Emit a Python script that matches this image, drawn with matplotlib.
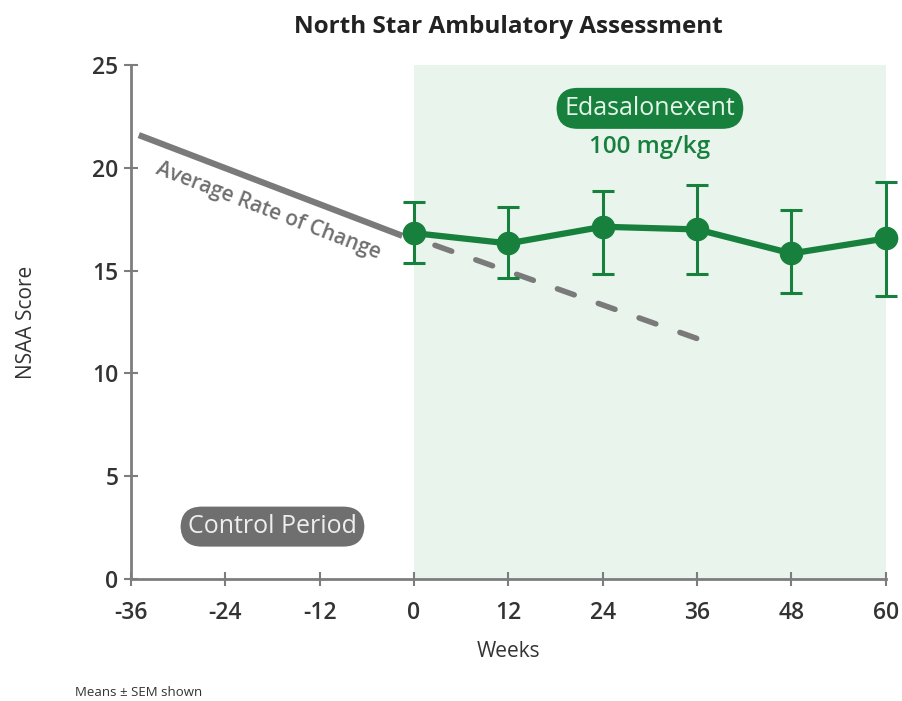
import matplotlib
matplotlib.use("Agg")
import matplotlib.pyplot as plt
import numpy as np

plt.rcParams['font.family'] = ['Open Sans', 'DejaVu Sans']

# Data
weeks = [0, 12, 24, 36, 48, 60]
nsaa = [16.83, 16.33, 17.14, 17.01, 15.84, 16.57]
err_upper = [18.35, 18.08, 18.87, 19.16, 17.95, 19.32]
err_lower = [15.38, 14.63, 14.83, 14.82, 13.90, 13.76]

control_weeks = [-35, -1.5]
control_vals = [21.6, 16.7]
proj_weeks = [0, 36]
proj_vals = [16.6, 11.7]

xticks = [-36, -24, -12, 0, 12, 24, 36, 48, 60]
yticks = [0, 5, 10, 15, 20, 25]

green = '#17803d'
gray_line = '#7a7a7a'
axis_gray = '#7d7d7d'
text_dark = '#333333'

fig = plt.figure(figsize=(9.03, 7.01), dpi=100)
ax = fig.add_axes([0.145, 0.174, 0.836, 0.733])

ax.set_xlim(-36, 60)
ax.set_ylim(0, 25)

# shaded treatment region
ax.axvspan(0, 60, ymin=0, ymax=1, color='#e9f4ed', zorder=0, lw=0)

# control average rate line
ax.plot(control_weeks, control_vals, color=gray_line, lw=4.5, solid_capstyle='butt', zorder=2)
ax.plot(proj_weeks, proj_vals, color=gray_line, lw=4, ls=(3.8, (3.2, 4.6)), dash_capstyle='round', zorder=2)

yerr = [np.array(nsaa) - np.array(err_lower), np.array(err_upper) - np.array(nsaa)]
ax.errorbar(weeks, nsaa, yerr=yerr, color=green, lw=4.5, marker='o', markersize=16,
            elinewidth=2.2, capsize=8, capthick=2.2, zorder=4, clip_on=False)

# spines
for s in ['top', 'right']:
    ax.spines[s].set_visible(False)
for s in ['left', 'bottom']:
    ax.spines[s].set_color(axis_gray)
    ax.spines[s].set_linewidth(2)

ax.set_xticks(xticks)
ax.set_yticks(yticks)
ax.set_xticklabels([str(t) for t in xticks])
ax.tick_params(axis='both', direction='inout', length=10, width=1.5, color=axis_gray,
               labelsize=16.5, labelcolor=text_dark)
for lab in ax.get_xticklabels() + ax.get_yticklabels():
    lab.set_fontweight('semibold')
ax.tick_params(axis='x', pad=11)
ax.tick_params(axis='y', pad=4)

ax.set_xlabel('Weeks', fontsize=15, color=text_dark)
ax.xaxis.set_label_coords(0.5, -0.12)
ax.set_ylabel('NSAA Score', fontsize=15, color=text_dark)
ax.yaxis.set_label_coords(-0.125, 0.5)

fig.text(0.563, 0.961, 'North Star Ambulatory Assessment', ha='center', va='center',
         fontsize=17.5, fontweight='bold', color='#222222')

# labels
ax.text(30, 22.9, 'Edasalonexent', ha='center', va='center', fontsize=18,
        color='#e6f5ea', fontweight='medium',
        bbox=dict(boxstyle='round,pad=0.32,rounding_size=0.85', fc=green, ec='none'), zorder=5)
ax.text(30, 21.0, '100 mg/kg', ha='center', va='center', fontsize=17.5, color=green,
        fontweight='semibold', zorder=5)

ax.text(-18, 2.55, 'Control Period', ha='center', va='center', fontsize=18,
        color='#eeeeee', fontweight='medium',
        bbox=dict(boxstyle='round,pad=0.3,rounding_size=0.85', fc='#6f6f6f', ec='none'), zorder=5)

ax.text(-18.5, 17.9, 'Average Rate of Change', ha='center', va='center', fontsize=15,
        color='#6f6f6f', rotation=-21, fontweight='semibold', zorder=5)

fig.text(0.083, 0.012, 'Means \u00b1 SEM shown', fontsize=9.5, color=text_dark, ha='left', va='center')

fig.savefig('out.png', dpi=100)
